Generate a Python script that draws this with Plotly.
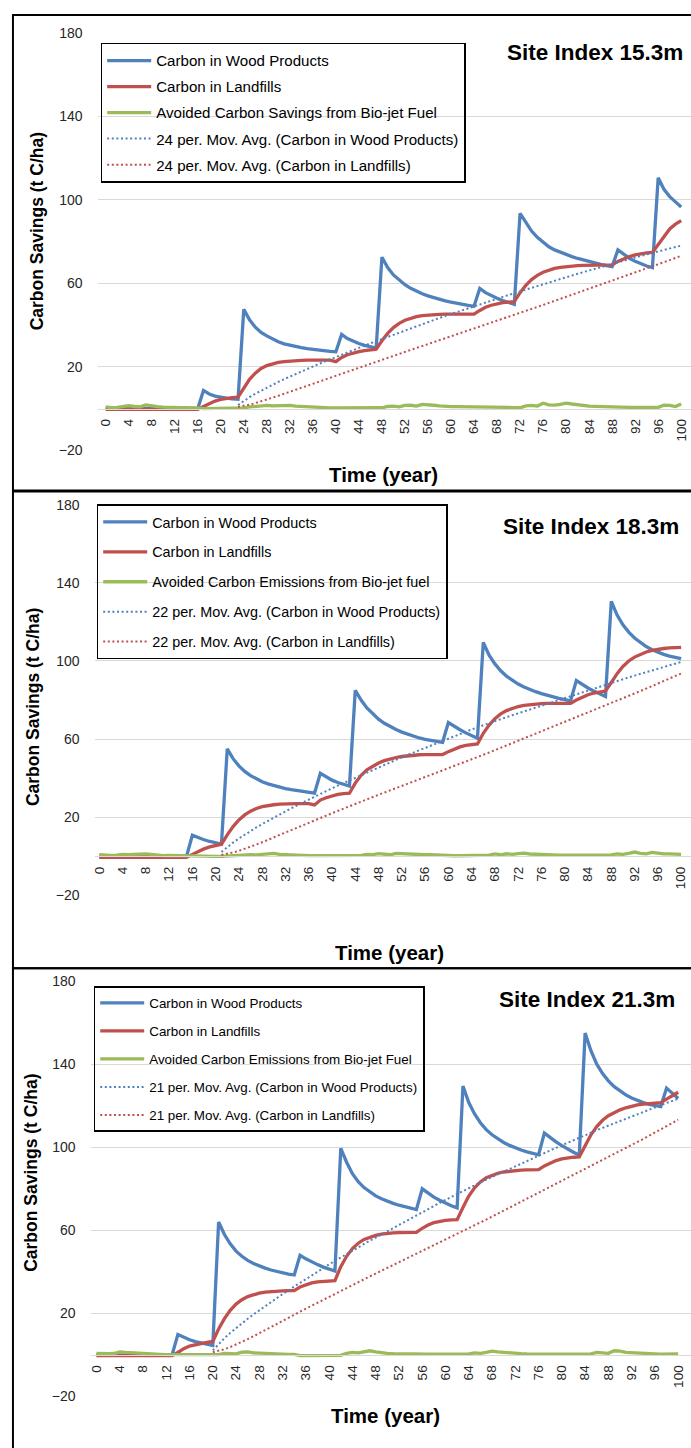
import plotly.graph_objects as go
import pandas as pd

W, H = 691, 1448
years = list(range(0, 101))
tick_years = list(range(0, 101, 4))
y_ticks = [-20, 20, 60, 100, 140, 180]

# ---------------- Site Index 15.3m ----------------
wood_153 = ([0.0] * 17 +
            [8.7, 7.0, 6.0, 5.4, 5.0, 4.7, 4.5] +
            [47.5, 42.5, 39.0, 36.5, 34.8, 33.3, 32.0, 31.0, 30.3, 29.7, 29.2, 28.7, 28.3, 28.0, 27.7, 27.4, 27.2] +
            [35.5, 33.5, 32.2, 31.2, 30.3, 29.6, 29.0] +
            [72.5, 67.5, 64.0, 61.5, 59.3, 57.6, 56.2, 55.0, 54.0, 53.1, 52.3, 51.6, 51.0, 50.4, 49.9, 49.4, 49.0] +
            [57.5, 55.5, 54.0, 52.8, 51.7, 50.8, 50.0] +
            [93.5, 89.0, 85.0, 82.0, 79.5, 77.5, 76.0, 74.8, 73.8, 72.8, 71.9, 71.1, 70.4, 69.7, 69.1, 68.5, 68.0] +
            [76.0, 73.8, 72.0, 70.5, 69.3, 68.3, 67.5] +
            [110.5, 105.0, 101.5, 99.0, 96.5])
landfill_153 = ([-0.4] * 17 +
                [1.0, 2.5, 3.6, 4.4, 5.0, 5.3, 5.5] +
                [10.0, 14.0, 17.0, 19.2, 20.6, 21.5, 22.1, 22.5, 22.8, 23.0, 23.1, 23.2, 23.2, 23.2, 23.2, 23.2, 22.5] +
                [24.5, 25.8, 26.7, 27.3, 27.8, 28.2, 28.5] +
                [32.5, 36.0, 38.8, 40.8, 42.3, 43.3, 44.0, 44.5, 44.8, 45.0, 45.1, 45.2, 45.2, 45.2, 45.2, 45.2, 45.2] +
                [47.0, 48.5, 49.5, 50.2, 50.7, 51.0, 51.2] +
                [55.5, 59.0, 61.8, 63.8, 65.3, 66.3, 67.1, 67.6, 68.0, 68.3, 68.5, 68.6, 68.7, 68.8, 68.8, 68.8, 68.8] +
                [70.5, 71.8, 72.8, 73.6, 74.2, 74.6, 74.8] +
                [78.5, 82.5, 86.0, 88.3, 90.0])
biojet_153 = ([0.8, 0.5, 0.6, 0.9, 1.4, 1.0, 0.8, 1.8, 1.2, 0.9, 0.7, 0.5, 0.4, 0.4, 0.4, 0.4, 0.3] +
              [0.0] * 7 +
              [0.3, 0.8, 1.0, 1.0, 1.5, 1.3, 1.4, 1.7, 1.5, 1.2, 1.0, 0.9, 0.8, 0.6, 0.4, 0.3, 0.3] +
              [0.3] * 7 +
              [0.4, 1.0, 1.2, 0.8, 1.5, 1.6, 1.2, 2.0, 1.9, 1.6, 1.3, 1.0, 0.9, 0.9, 0.9, 0.9, 0.9] +
              [0.9, 0.9, 0.9, 0.9, 0.9, 0.6, 0.4] +
              [0.4, 1.3, 1.5, 1.2, 2.6, 1.8, 1.7, 2.0, 2.6, 2.2, 1.8, 1.5, 1.2, 1.1, 1.0, 0.8, 0.6] +
              [0.6] * 7 +
              [0.6, 1.6, 1.5, 1.0, 2.2])

# ---------------- Site Index 18.3m ----------------
wood_183 = ([0.0] * 16 +
            [10.8, 9.5, 8.5, 7.6, 6.9, 6.3] +
            [55.0, 50.0, 46.3, 43.5, 41.3, 39.6, 38.2, 37.1, 36.2, 35.4, 34.7, 34.1, 33.6, 33.1, 32.7, 32.3] +
            [42.5, 40.5, 39.0, 37.8, 36.8, 36.0] +
            [85.0, 80.0, 76.0, 72.8, 70.2, 68.1, 66.4, 64.9, 63.6, 62.5, 61.5, 60.6, 59.9, 59.3, 58.8, 58.4] +
            [68.5, 66.5, 64.8, 63.2, 61.8, 60.5] +
            [109.5, 103.0, 98.5, 95.0, 92.2, 90.0, 88.2, 86.7, 85.4, 84.3, 83.3, 82.4, 81.6, 80.9, 80.2, 79.6] +
            [90.0, 88.0, 86.2, 84.6, 83.2, 81.8] +
            [130.5, 123.5, 118.5, 114.8, 111.8, 109.4, 107.4, 105.8, 104.5, 103.4, 102.5, 101.8, 101.2])
landfill_183 = ([-0.5] * 16 +
                [1.0, 2.6, 3.8, 4.8, 5.6, 6.2] +
                [11.0, 15.2, 18.6, 21.2, 23.1, 24.5, 25.4, 26.0, 26.4, 26.7, 26.9, 27.0, 27.0, 27.0, 27.0, 26.3] +
                [28.8, 30.0, 31.0, 31.7, 32.1, 32.3] +
                [37.5, 41.5, 44.3, 46.3, 47.8, 49.0, 49.9, 50.6, 51.1, 51.5, 51.8, 52.0, 52.1, 52.1, 52.1, 52.1] +
                [53.6, 55.0, 56.0, 56.8, 57.3, 57.5] +
                [63.0, 67.2, 70.5, 72.9, 74.6, 75.8, 76.7, 77.3, 77.7, 78.0, 78.2, 78.3, 78.3, 78.3, 78.3, 78.3] +
                [80.0, 81.5, 82.7, 83.6, 84.2, 84.6] +
                [89.0, 93.5, 97.2, 100.0, 102.0, 103.5, 104.6, 105.4, 106.0, 106.4, 106.7, 106.9, 107.0])
biojet_183 = ([0.8, 0.5, 0.5, 0.6, 1.0, 0.9, 0.8, 1.1, 1.2, 0.9, 0.6, 0.4, 0.5, 0.4, 0.4, 0.3] +
              [0.0] * 6 +
              [0.2, 0.6, 0.5, 1.0, 0.8, 0.7, 1.0, 0.9, 1.5, 1.0, 0.8, 0.6, 0.5, 0.4, 0.4, 0.4] +
              [0.4] * 6 +
              [0.4, 0.5, 1.0, 0.9, 1.4, 1.0, 0.8, 1.5, 1.3, 1.1, 1.0, 0.8, 0.8, 0.8, 0.6, 0.5] +
              [0.3] * 6 +
              [0.3, 0.6, 1.2, 0.8, 1.3, 1.0, 1.4, 1.6, 1.2, 1.0, 0.9, 0.7, 0.6, 0.6, 0.6, 0.6] +
              [0.6] * 6 +
              [0.7, 1.2, 1.0, 1.5, 2.2, 1.5, 1.3, 2.0, 1.6, 1.3, 1.3, 1.2, 1.0])

# ---------------- Site Index 21.3m ----------------
wood_213 = ([0.0] * 14 +
            [9.8, 8.4, 7.3, 6.4, 5.7, 5.1, 4.6] +
            [64.0, 58.0, 53.5, 50.0, 47.5, 45.5, 44.0, 42.8, 41.8, 40.9, 40.1, 39.5, 38.9, 38.5] +
            [48.0, 46.3, 44.8, 43.5, 42.3, 41.3, 40.4] +
            [99.5, 92.8, 87.3, 83.4, 80.6, 78.4, 76.6, 75.2, 74.0, 73.0, 72.1, 71.3, 70.6, 70.0] +
            [80.0, 77.8, 76.0, 74.5, 73.0, 71.8, 70.8] +
            [129.5, 121.5, 116.0, 111.8, 108.5, 106.0, 104.0, 102.3, 100.9, 99.7, 98.7, 97.8, 97.0, 96.4] +
            [106.8, 104.6, 102.6, 100.8, 99.1, 97.6, 96.2] +
            [155.0, 146.5, 140.0, 135.5, 132.0, 129.2, 127.0, 125.2, 123.7, 122.5, 121.5, 120.7, 120.1, 119.6] +
            [128.5, 125.8, 123.5])
landfill_213 = ([-0.3] * 14 +
                [1.2, 3.0, 4.3, 5.0, 5.5, 6.0, 6.5] +
                [12.5, 17.5, 21.5, 24.5, 26.6, 28.1, 29.1, 29.8, 30.3, 30.6, 30.8, 30.9, 31.0, 31.0] +
                [32.7, 33.9, 34.7, 35.2, 35.5, 35.7, 35.8] +
                [42.5, 47.5, 51.2, 53.8, 55.6, 56.8, 57.6, 58.2, 58.6, 58.8, 58.9, 59.0, 59.0, 59.0] +
                [61.0, 62.6, 63.7, 64.4, 64.8, 65.0, 65.1] +
                [71.0, 76.5, 80.5, 83.3, 85.3, 86.6, 87.5, 88.1, 88.5, 88.8, 89.0, 89.1, 89.2, 89.2] +
                [91.0, 92.5, 93.6, 94.4, 94.9, 95.2, 95.4] +
                [101.0, 106.0, 110.0, 113.0, 115.2, 116.8, 118.0, 119.0, 119.8, 120.4, 120.8, 121.1, 121.3, 121.5] +
                [123.2, 125.0, 126.5])
biojet_213 = ([0.8, 0.5, 0.6, 0.7, 1.5, 1.2, 1.0, 0.8, 0.6, 0.7, 0.4, 0.3, 0.2, 0.2] +
              [0.0] * 7 +
              [0.2, 0.8, 0.7, 0.5, 1.3, 1.5, 1.0, 0.8, 0.6, 0.5, 0.4, 0.4, 0.3, 0.3] +
              [-0.3] * 7 +
              [-0.2, 0.8, 1.2, 1.0, 1.3, 2.0, 1.5, 1.0, 0.8, 0.6, 0.5, 0.5, 0.4, 0.4] +
              [0.4] * 7 +
              [0.4, 0.5, 1.0, 0.8, 1.2, 1.8, 1.5, 1.2, 1.0, 0.8, 0.6, 0.5, 0.4, 0.4] +
              [0.4, 0.4, 0.4, 0.4, 0.4, 0.3, 0.3] +
              [0.3, 0.5, 1.2, 1.0, 0.8, 2.0, 1.8, 1.2, 1.0, 0.9, 0.8, 0.7, 0.5, 0.4] +
              [0.4, 0.4, 0.5])

panel_titles = ["Site Index 15.3m", "Site Index 18.3m", "Site Index 21.3m"]
ma_periods = [24, 22, 21]
biojet_names = ["Avoided Carbon Savings from Bio-jet Fuel",
                "Avoided Carbon Emissions from Bio-jet fuel",
                "Avoided Carbon Emissions from Bio-jet Fuel"]

BLUE, RED, GREEN = "#4F81BD", "#C0504D", "#9BBB59"
FONT = "Liberation Sans, Arial, sans-serif"

# layout geometry (pixels)
geo = [
    dict(xl=95, top=25.0, bot=447.3, xr=[-1.4, 101.7], box=(7, 488),
         leg=(98, 35), legfont=15.1, leggap=3.4, title_xy=(685, 45), xt_xy=(382, 472), yt_xy=(34, 226)),
    dict(xl=92, top=502.3, bot=897.3, xr=[-0.8, 101.7], box=(489, 971),
         leg=(94, 502), legfont=14.4, leggap=8.2, title_xy=(681, 524), xt_xy=(388, 955), yt_xy=(30, 707)),
    dict(xl=88, top=984.0, bot=1404.0, xr=[-1.0, 102.2], box=(971, 1460),
         leg=(91, 989), legfont=13.4, leggap=7.6, title_xy=(677, 1003), xt_xy=(384, 1423), yt_xy=(28, 1178)),
]

data_sets = [(wood_153, landfill_153, biojet_153),
             (wood_183, landfill_183, biojet_183),
             (wood_213, landfill_213, biojet_213)]


def moving_avg(vals, n):
    s = pd.Series(vals, dtype=float).rolling(n).mean()
    return [None if pd.isna(v) else float(v) for v in s]


fig = go.Figure()
layout = dict(width=W, height=H, margin=dict(l=0, r=0, t=0, b=0),
              paper_bgcolor="white", plot_bgcolor="white",
              font=dict(family=FONT, color="#000000"), showlegend=True)
shapes, annotations = [], []

for i, (g, (wood, land, bio)) in enumerate(zip(geo, data_sets)):
    k = "" if i == 0 else str(i + 1)
    xa, ya = "x" + k, "y" + k
    leg = "legend" + k
    n = ma_periods[i]
    d0 = 1 - g["bot"] / H
    d1 = 1 - g["top"] / H
    zero_pos = d0 + (0 - (-20)) / 200 * (d1 - d0)

    traces = [
        (wood, "Carbon in Wood Products", BLUE, 3.3, "solid"),
        (land, "Carbon in Landfills", RED, 3.3, "solid"),
        (bio, biojet_names[i], GREEN, 3.3, "solid"),
        (moving_avg(wood, n), f"{n} per. Mov. Avg. (Carbon in Wood Products)", BLUE, 2, "2px,2.6px"),
        (moving_avg(land, n), f"{n} per. Mov. Avg. (Carbon in Landfills)", RED, 2, "2px,2.6px"),
    ]
    for j, (vals, name, col, lw, dash) in enumerate(traces):
        fig.add_trace(go.Scatter(x=years, y=vals, name=name, mode="lines",
                                 line=dict(color=col, width=lw, dash=dash),
                                 xaxis=xa, yaxis=ya, legend=leg,
                                 legendgroup=f"g{i}_{j}", connectgaps=False,
                                 hoverinfo="skip"))

    layout["xaxis" + k] = dict(domain=[g["xl"] / W, 1], range=g["xr"], anchor="free",
                               position=zero_pos, tickmode="array", tickvals=tick_years,
                               ticktext=[str(t) for t in tick_years], tickangle=-90,
                               showgrid=False, zeroline=False, showline=True,
                               linecolor="#D9D9D9", linewidth=1, ticks="",
                               ticklabelstandoff=4,
                               tickfont=dict(family=FONT, size=13.5, color="#262626"))
    layout["yaxis" + k] = dict(domain=[d0, d1], range=[-20, 180], anchor=xa,
                               tickmode="array", tickvals=y_ticks,
                               showgrid=True, gridcolor="#D9D9D9", gridwidth=1.4,
                               zeroline=False, showline=False, ticks="",
                               ticklabelstandoff=14,
                               tickfont=dict(family=FONT, size=14, color="#262626"))
    layout[leg] = dict(x=g["leg"][0] / W, y=1 - g["leg"][1] / H, xanchor="left", yanchor="top",
                       bgcolor="rgba(0,0,0,0)", bordercolor="#000000", borderwidth=1.6,
                       font=dict(family=FONT, size=g["legfont"], color="#000000"),
                       tracegroupgap=g["leggap"], itemwidth=44, traceorder="grouped")

    # panel frame
    shapes.append(dict(type="rect", xref="paper", yref="paper",
                       x0=10 / W, x1=1.05, y0=1 - g["box"][1] / H, y1=1 - g["box"][0] / H,
                       line=dict(color="#000000", width=2), fillcolor="rgba(0,0,0,0)"))
    annotations.append(dict(text=f"<b>{panel_titles[i]}</b>", xref="paper", yref="paper",
                            x=g["title_xy"][0] / W, y=1 - g["title_xy"][1] / H,
                            xanchor="right", yanchor="middle", showarrow=False,
                            font=dict(family=FONT, size=22.5, color="#000000")))
    annotations.append(dict(text="<b>Time (year)</b>", xref="paper", yref="paper",
                            x=g["xt_xy"][0] / W, y=1 - g["xt_xy"][1] / H,
                            xanchor="center", yanchor="middle", showarrow=False,
                            font=dict(family=FONT, size=20.5, color="#000000")))
    annotations.append(dict(text="<b>Carbon Savings (t C/ha)</b>", xref="paper", yref="paper",
                            x=g["yt_xy"][0] / W, y=1 - g["yt_xy"][1] / H, textangle=-90,
                            xanchor="center", yanchor="middle", showarrow=False,
                            font=dict(family=FONT, size=17.5, color="#000000")))

layout["shapes"] = shapes
layout["annotations"] = annotations
fig.update_layout(**layout)
fig.write_html("out.html")
